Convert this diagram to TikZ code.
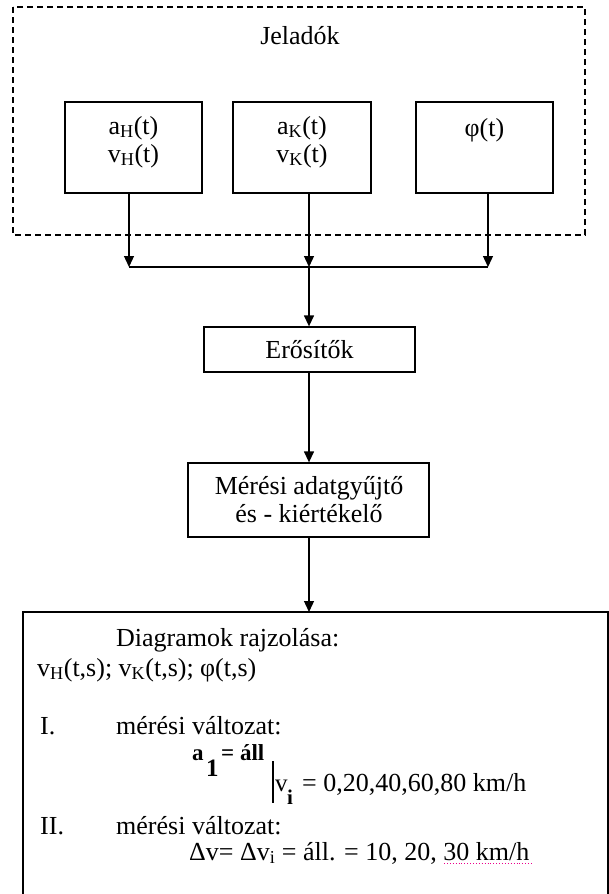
\documentclass[tikz,border=0pt]{standalone}
\usepackage{fontspec}
\setmainfont{Liberation Serif}
\usetikzlibrary{arrows.meta}
\tikzset{
  box/.style={draw, line width=1.3pt, inner sep=0pt},
  dashbox/.style={draw, line width=1.3pt, dash pattern=on 6pt off 4pt},
  conn/.style={line width=1.3pt},
  arr/.style={conn, -{Triangle[length=11pt,width=10pt]}},
  txt/.style={inner sep=0pt, align=center, font=\fontsize{26}{28}\selectfont},
  ltxt/.style={inner sep=0pt, anchor=base west, font=\fontsize{26}{28}\selectfont},
  eqtxt/.style={inner sep=0pt, anchor=base west},
}
\begin{document}
\begin{tikzpicture}[x=1pt,y=-1pt]
\useasboundingbox (0,0) rectangle (609,894);
\clip (0,0) rectangle (609,894);
% dashed group
\draw[dashbox] (13,7) rectangle (585,235);
\node[txt] (jel) at (300,36) {Jeladók};
% sensor boxes
\node[box, minimum width=137pt, minimum height=91pt] (b1) at (133.5,147.5) {};
\node[box, minimum width=138pt, minimum height=91pt] (b2) at (302,147.5) {};
\node[box, minimum width=137pt, minimum height=91pt] (b3) at (484.5,147.5) {};
\node[txt] (t1) at (133.5,142) {a\textsubscript{H}(t)\\v\textsubscript{H}(t)};
\node[txt] (t2) at (302,142) {a\textsubscript{K}(t)\\v\textsubscript{K}(t)};
\node[txt] (t3) at (484.5,130) {φ(t)};
% junction
\coordinate (j1) at (129,267);
\coordinate (j2) at (309,267);
\coordinate (j3) at (488,267);
\draw[arr] (b1.south -| j1) -- (j1);
\draw[arr] (b2.south -| j2) -- (j2);
\draw[arr] (b3.south -| j3) -- (j3);
\draw[conn] (j1) -- (j3);
% amplifiers
\node[box, minimum width=211pt, minimum height=45pt] (erosito) at (309.5,349.5) {};
\node[txt] (terosito) at (309.5,350) {Erősítők};
\draw[arr] (j2) -- (j2 |- erosito.north);
% data acquisition
\node[box, minimum width=241pt, minimum height=74pt] (meres) at (308.5,500) {};
\node[txt] (tmeres) at (309,500) {Mérési adatgyűjtő\\és - kiértékelő};
\draw[arr] (j2 |- erosito.south) -- (j2 |- meres.north);
% bottom box
\draw[conn] (23,950) -- (23,612) -- (608,612) -- (608,950);
\coordinate (bot) at (309,612);
\draw[arr] (j2 |- meres.south) -- (bot);
% bottom texts
\node[ltxt] (d1) at (116,646) {Diagramok rajzolása:};
\node[ltxt] (d2) at (37,676) {v\textsubscript{H}(t,s); v\textsubscript{K}(t,s); φ(t,s)};
\node[ltxt] (d3) at (40,734) {I.};
\node[ltxt] (d4) at (116,734) {mérési változat:};
\node[eqtxt, font=\fontsize{23}{25}\selectfont\bfseries] (ea) at (192,760) {a};
\node[eqtxt, font=\fontsize{25}{27}\selectfont\bfseries] (e1) at (206,776) {1};
\node[eqtxt, font=\fontsize{23}{25}\selectfont\bfseries] (eall) at (221,760) {= áll};
\draw[line width=1.3pt] (273,761) -- (273,803);
\node[eqtxt, font=\fontsize{25}{27}\selectfont] (ev) at (275,791) {v};
\node[eqtxt, font=\fontsize{21}{23}\selectfont\bfseries] (ei) at (287,804) {i};
\node[eqtxt, font=\fontsize{26}{28}\selectfont] (eval) at (302,791) {= 0,20,40,60,80 km/h};
\node[ltxt] (d5) at (40,834) {II.};
\node[ltxt] (d6) at (116,834) {mérési változat:};
\node[ltxt] (d7) at (189,860) {Δv= Δv\textsubscript{i} = áll. = 10, 20, 30 km/h};
\draw[magenta, dotted, line width=0.9pt] (444,863) -- (532,863);
\end{tikzpicture}
\end{document}
